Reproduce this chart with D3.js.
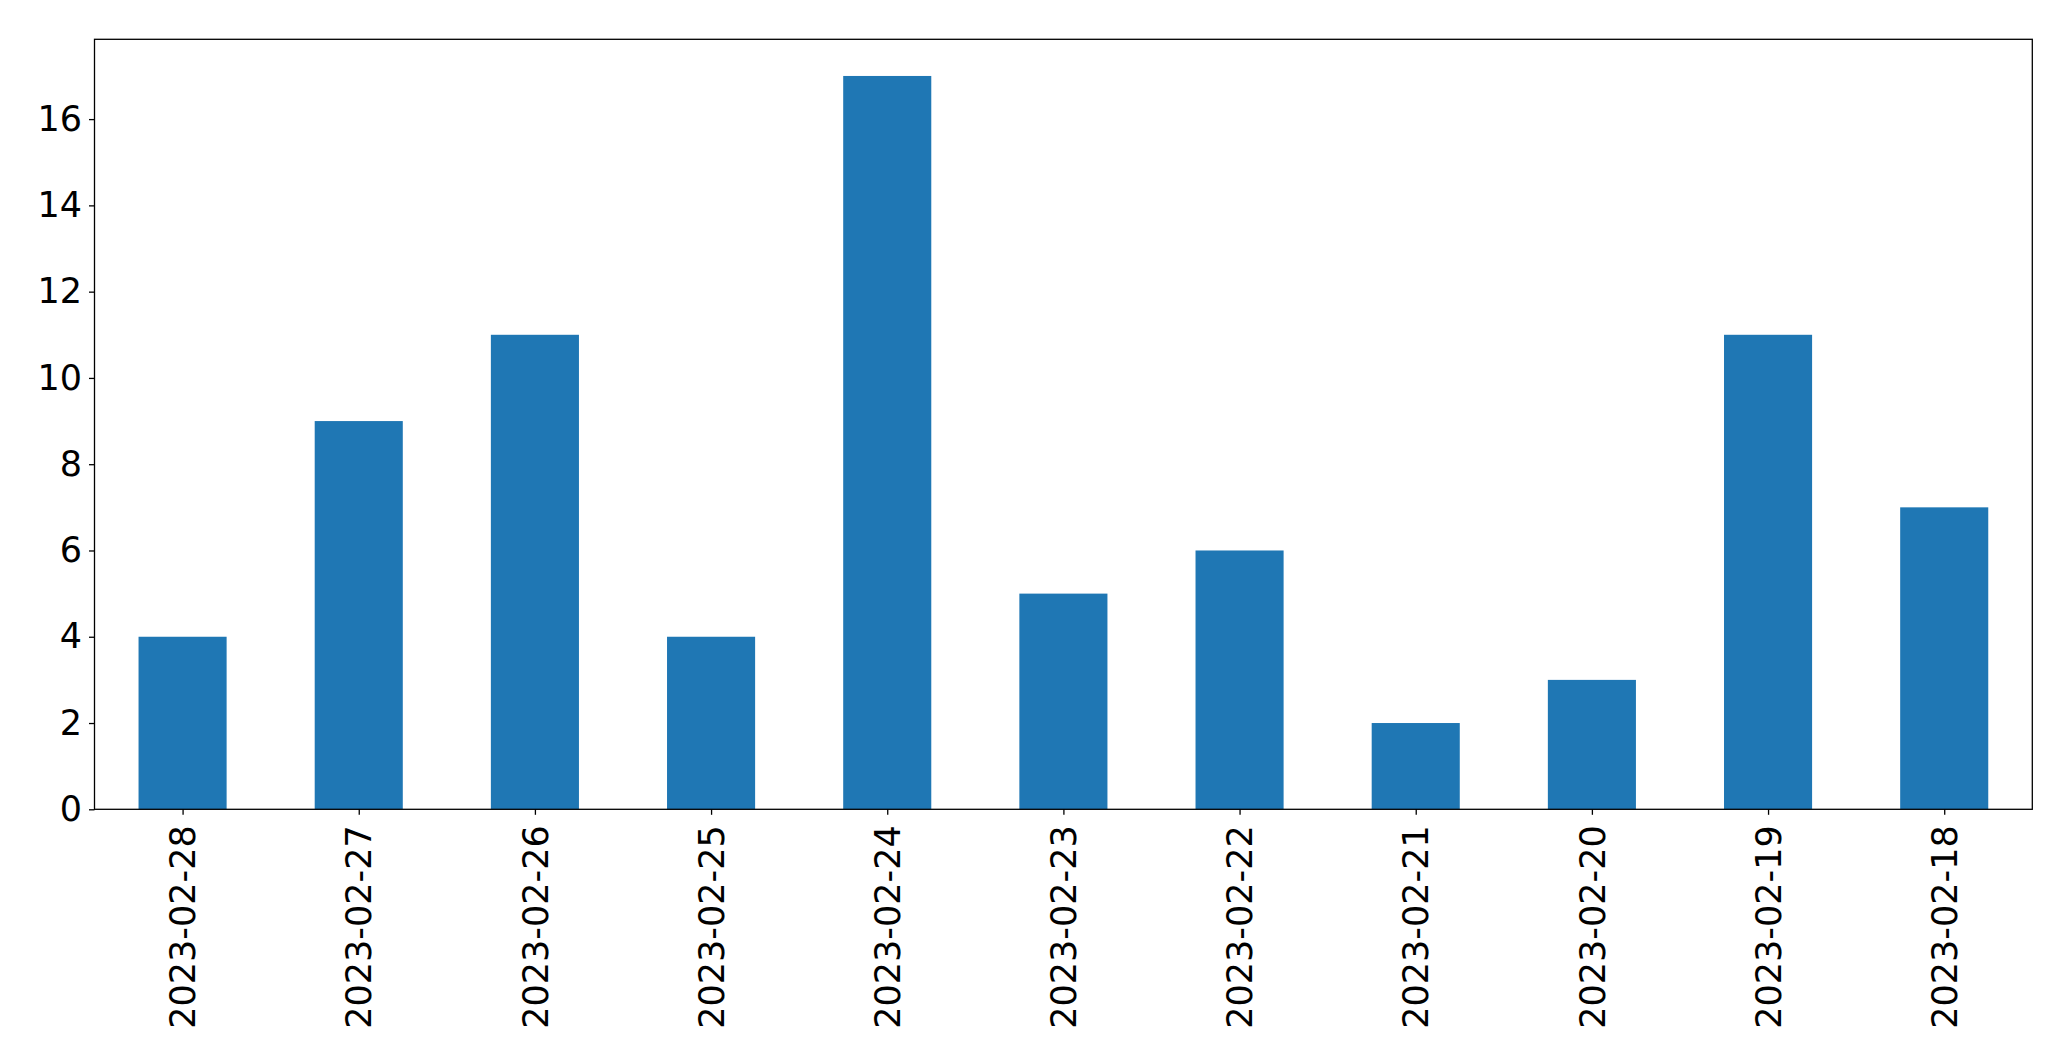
<!DOCTYPE html>
<html>
<head>
<meta charset="utf-8">
<script src="https://cdn.jsdelivr.net/npm/d3@7"></script>
<style>
html,body{margin:0;padding:0;background:#fff;}
svg{display:block;}
text{font-family:"DejaVu Sans",sans-serif;fill:#000;}
</style>
</head>
<body>
<script>
const categories = ["2023-02-28","2023-02-27","2023-02-26","2023-02-25","2023-02-24","2023-02-23","2023-02-22","2023-02-21","2023-02-20","2023-02-19","2023-02-18"];
const values = [4,9,11,4,17,5,6,2,3,11,7];
const yTicks = [0,2,4,6,8,10,12,14,16];

(function(){
const W = 2071, H = 1061;
const mLeft = 94.5, mRight = 2032.3, mTop = 39.3, mBottom = 809.3;
const fontSize = 35;

const svg = d3.select("body").append("svg").attr("width", W).attr("height", H);

const x = d3.scaleLinear().domain([-0.5, categories.length - 0.5]).range([mLeft, mRight]);
const y = d3.scaleLinear().domain([0, d3.max(values) * 1.05]).range([mBottom, mTop]);
const barW = 0.5;

svg.append("g").selectAll("rect").data(values).join("rect")
  .attr("x", (d,i) => x(i - barW/2))
  .attr("width", (d,i) => x(i + barW/2) - x(i - barW/2))
  .attr("y", d => y(d))
  .attr("height", d => y(0) - y(d))
  .attr("fill", "#1f77b4");

svg.append("rect")
  .attr("x", mLeft).attr("y", mTop)
  .attr("width", mRight - mLeft).attr("height", mBottom - mTop)
  .attr("fill", "none").attr("stroke", "#000").attr("stroke-width", 1.3);

const yAxis = d3.axisLeft(y).tickValues(yTicks).tickSize(5.5).tickPadding(7).tickFormat(d3.format("d"));
const gy = svg.append("g").attr("transform", `translate(${mLeft},0)`).call(yAxis);
gy.select(".domain").remove();
gy.selectAll(".tick line").attr("stroke", "#000").attr("stroke-width", 1.3);
gy.selectAll(".tick text").attr("font-size", fontSize).attr("font-family", "DejaVu Sans").attr("fill", "#000");

const xAxis = d3.axisBottom(x).tickValues(d3.range(categories.length)).tickSize(5.5).tickPadding(7).tickFormat(i => categories[i]);
const gx = svg.append("g").attr("transform", `translate(0,${mBottom})`).call(xAxis);
gx.select(".domain").remove();
gx.selectAll(".tick line").attr("stroke", "#000").attr("stroke-width", 1.3);
gx.selectAll(".tick text")
  .attr("font-size", fontSize).attr("font-family", "DejaVu Sans").attr("fill", "#000")
  .attr("text-anchor", "end")
  .attr("transform", "rotate(-90)")
  .attr("x", -16).attr("y", 0).attr("dy", "0.35em");
})();
</script>
</body>
</html>
